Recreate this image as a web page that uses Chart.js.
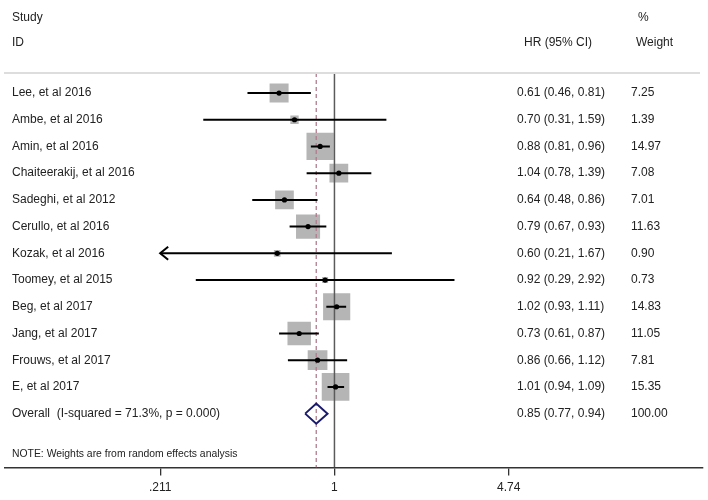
<!DOCTYPE html>
<html>
<head>
<meta charset="utf-8">
<script src="https://cdn.jsdelivr.net/npm/chart.js@4.4.1/dist/chart.umd.min.js"></script>
<style>
  html, body { margin: 0; padding: 0; background: #ffffff; }
  #wrap { width: 708px; height: 500px; }
</style>
</head>
<body>
<div id="wrap"><canvas id="c" width="708" height="500"></canvas></div>
<script>
// ---------- data ----------
const studies = ['Lee, et al 2016', 'Ambe, et al 2016', 'Amin, et al 2016', 'Chaiteerakij, et al 2016',
  'Sadeghi, et al 2012', 'Cerullo, et al 2016', 'Kozak, et al 2016', 'Toomey, et al 2015',
  'Beg, et al 2017', 'Jang, et al 2017', 'Frouws, et al 2017', 'E, et al 2017'];
const hr      = [0.61, 0.70, 0.88, 1.04, 0.64, 0.79, 0.60, 0.92, 1.02, 0.73, 0.86, 1.01];
const ciLow   = [0.46, 0.31, 0.81, 0.78, 0.48, 0.67, 0.21, 0.29, 0.93, 0.61, 0.66, 0.94];
const ciHigh  = [0.81, 1.59, 0.96, 1.39, 0.86, 0.93, 1.67, 2.92, 1.11, 0.87, 1.12, 1.09];
const weights = [7.25, 1.39, 14.97, 7.08, 7.01, 11.63, 0.90, 0.73, 14.83, 11.05, 7.81, 15.35];

const overallLabel  = 'Overall  (I-squared = 71.3%, p = 0.000)';
const overallHR     = 0.85;
const overallLow    = 0.77;
const overallHigh   = 0.94;
const overallWeight = 100.00;

const nullEffect = 1;
const tickValues = [0.211, 1, 4.74];
const tickLabels = ['.211', '1', '4.74'];
const noteText = 'NOTE: Weights are from random effects analysis';

// ---------- layout / style ----------
const FONT = '"Liberation Sans", Arial, sans-serif';
const TEXT = '#222222';
const plotMin = tickValues[0];
const plotMax = tickValues[tickValues.length - 1];
const overallRow = studies.length;
const yMin = -0.75, yMax = 14.02;
const diamondHalf = 0.375;

// CI segments (clipped to plot range)
const ciData = [];
studies.forEach((s, i) => {
  ciData.push({ x: Math.max(ciLow[i], plotMin), y: i });
  ciData.push({ x: Math.min(ciHigh[i], plotMax), y: i });
  ciData.push({ x: null, y: null });
});
const pointData = studies.map((s, i) => ({ x: hr[i], y: i }));

const diamondData = [
  { x: overallLow, y: overallRow },
  { x: overallHR, y: overallRow - diamondHalf },
  { x: overallHigh, y: overallRow },
  { x: overallHR, y: overallRow + diamondHalf },
  { x: overallLow, y: overallRow }
];

const fmt = v => v.toFixed(2);

const textPlugin = {
  id: 'forestText',
  afterDraw(chart) {
    const ctx = chart.ctx;
    const xs = chart.scales.x, ys = chart.scales.y;
    const ca = chart.chartArea;
    ctx.save();
    // top rule
    ctx.strokeStyle = '#dddddd';
    ctx.lineWidth = 2;
    ctx.beginPath();
    ctx.moveTo(4, ca.top);
    ctx.lineTo(700, ca.top);
    ctx.stroke();

    // arrows for clipped CIs
    ctx.strokeStyle = '#000000';
    ctx.lineWidth = 2;
    studies.forEach((s, i) => {
      const y = ys.getPixelForValue(i);
      if (ciLow[i] < plotMin) {
        const x = xs.getPixelForValue(plotMin);
        ctx.beginPath();
        ctx.moveTo(x + 8, y - 6.5);
        ctx.lineTo(x, y);
        ctx.lineTo(x + 8, y + 6.5);
        ctx.stroke();
      }
      if (ciHigh[i] > plotMax) {
        const x = xs.getPixelForValue(plotMax);
        ctx.beginPath();
        ctx.moveTo(x - 8, y - 6.5);
        ctx.lineTo(x, y);
        ctx.lineTo(x - 8, y + 6.5);
        ctx.stroke();
      }
    });

    ctx.fillStyle = TEXT;
    ctx.textBaseline = 'middle';
    ctx.textAlign = 'left';
    ctx.font = '12px ' + FONT;
    // headers
    ctx.fillText('Study', 12, 18);
    ctx.fillText('ID', 12, 43);
    ctx.fillText('HR (95% CI)', 524, 43);
    ctx.fillText('%', 638, 18);
    ctx.fillText('Weight', 636, 43);

    studies.forEach((s, i) => {
      const y = ys.getPixelForValue(i);
      ctx.fillText(s, 12, y);
      ctx.fillText(fmt(hr[i]) + ' (' + fmt(ciLow[i]) + ', ' + fmt(ciHigh[i]) + ')', 517, y);
      ctx.fillText(fmt(weights[i]), 631, y);
    });
    const yo = ys.getPixelForValue(overallRow);
    ctx.fillText(overallLabel, 12, yo);
    ctx.fillText(fmt(overallHR) + ' (' + fmt(overallLow) + ', ' + fmt(overallHigh) + ')', 517, yo);
    ctx.fillText(fmt(overallWeight), 631, yo);

    ctx.font = '10.4px ' + FONT;
    ctx.fillText(noteText, 12, ys.getPixelForValue(13.53));
    ctx.restore();
  }
};

new Chart(document.getElementById('c'), {
  type: 'scatter',
  data: {
    datasets: [
      { // point estimates
        data: pointData,
        pointStyle: 'circle', pointRadius: 2.6, pointBorderWidth: 0,
        backgroundColor: '#000000', borderColor: '#000000', showLine: false
      },
      { // confidence intervals
        data: ciData, showLine: true, spanGaps: false,
        borderColor: '#000000', borderWidth: 2, pointRadius: 0
      },
      { // overall diamond
        data: diamondData, showLine: true,
        borderColor: '#1b1b6e', borderWidth: 2, pointRadius: 0, fill: false
      },
      { // overall dashed line
        data: [{ x: overallHR, y: yMin }, { x: overallHR, y: yMax }], showLine: true,
        borderColor: '#b07c8c', borderWidth: 1.3, borderDash: [4, 3], pointRadius: 0
      },
      { // null line
        data: [{ x: nullEffect, y: yMin }, { x: nullEffect, y: yMax }], showLine: true,
        borderColor: '#5a5a5a', borderWidth: 1.5, pointRadius: 0
      },
      { // weight boxes
        data: pointData,
        pointStyle: 'rect',
        pointRadius: ctx => 4.99 * Math.sqrt(weights[ctx.dataIndex]),
        pointBorderWidth: 0,
        backgroundColor: '#b5b5b5', borderColor: '#b5b5b5', showLine: false
      }
    ]
  },
  options: {
    responsive: false,
    animation: false,
    events: [],
    layout: { autoPadding: false, padding: { left: 5, right: 5, top: 73, bottom: 0 } },
    plugins: { legend: { display: false }, tooltip: { enabled: false } },
    scales: {
      x: {
        type: 'logarithmic',
        min: 0.0528, max: 26.85,
        afterBuildTicks: scale => { scale.ticks = tickValues.map(v => ({ value: v })); },
        afterFit: scale => { scale.paddingLeft = 0; scale.paddingRight = 0; },
        ticks: {
          autoSkip: false, maxRotation: 0,
          callback: (v, i) => tickLabels[i],
          color: TEXT, font: { family: FONT, size: 12 }, padding: 5
        },
        grid: { drawOnChartArea: false, drawTicks: true, tickLength: 8, color: '#333333', lineWidth: 1.3 },
        border: { display: true, color: '#333333', width: 1.5 }
      },
      y: {
        type: 'linear', reverse: true, min: yMin, max: yMax, display: false
      }
    }
  },
  plugins: [textPlugin]
});
</script>
</body>
</html>
